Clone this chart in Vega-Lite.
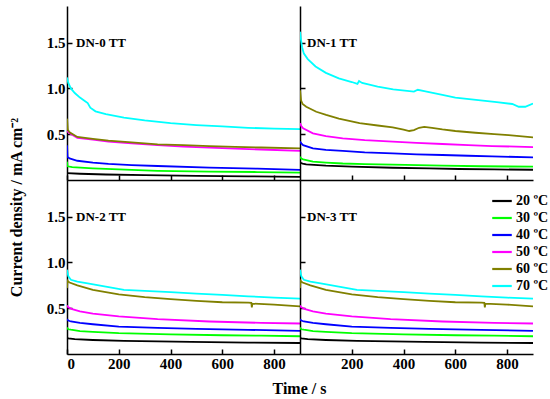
{
"$schema": "https://vega.github.io/schema/vega-lite/v6.json",
"padding": {"left": 8, "top": 6, "right": 0, "bottom": 0},
"columns": 2,
"spacing": 0,
"bounds": "flush",
"datasets": {
"labels": [
{"p": "DN-0 TT", "t": 35, "j": 1.5},
{"p": "DN-1 TT", "t": 27, "j": 1.5},
{"p": "DN-2 TT", "t": 35, "j": 1.5},
{"p": "DN-3 TT", "t": 27, "j": 1.5}
],
"curves": [
{"p":"DN-0 TT","T":"20 ºC","t":0,"j":0.075},{"p":"DN-0 TT","T":"20 ºC","t":50,"j":0.068},{"p":"DN-0 TT","T":"20 ºC","t":150,"j":0.06},{"p":"DN-0 TT","T":"20 ºC","t":300,"j":0.053},{"p":"DN-0 TT","T":"20 ºC","t":500,"j":0.046},{"p":"DN-0 TT","T":"20 ºC","t":700,"j":0.04},{"p":"DN-0 TT","T":"20 ºC","t":900,"j":0.035},
{"p":"DN-0 TT","T":"30 ºC","t":0,"j":0.2},{"p":"DN-0 TT","T":"30 ºC","t":2,"j":0.15},{"p":"DN-0 TT","T":"30 ºC","t":20,"j":0.14},{"p":"DN-0 TT","T":"30 ºC","t":100,"j":0.128},{"p":"DN-0 TT","T":"30 ºC","t":200,"j":0.115},{"p":"DN-0 TT","T":"30 ºC","t":350,"j":0.1},{"p":"DN-0 TT","T":"30 ºC","t":550,"j":0.092},{"p":"DN-0 TT","T":"30 ºC","t":735,"j":0.087},{"p":"DN-0 TT","T":"30 ºC","t":900,"j":0.08},
{"p":"DN-0 TT","T":"40 ºC","t":0,"j":0.38},{"p":"DN-0 TT","T":"40 ºC","t":2,"j":0.25},{"p":"DN-0 TT","T":"40 ºC","t":10,"j":0.235},{"p":"DN-0 TT","T":"40 ºC","t":40,"j":0.21},{"p":"DN-0 TT","T":"40 ºC","t":100,"j":0.19},{"p":"DN-0 TT","T":"40 ºC","t":160,"j":0.175},{"p":"DN-0 TT","T":"40 ºC","t":250,"j":0.163},{"p":"DN-0 TT","T":"40 ºC","t":350,"j":0.153},{"p":"DN-0 TT","T":"40 ºC","t":550,"j":0.135},{"p":"DN-0 TT","T":"40 ºC","t":735,"j":0.124},{"p":"DN-0 TT","T":"40 ºC","t":900,"j":0.11},
{"p":"DN-0 TT","T":"50 ºC","t":0,"j":0.535},{"p":"DN-0 TT","T":"50 ºC","t":10,"j":0.51},{"p":"DN-0 TT","T":"50 ºC","t":40,"j":0.46},{"p":"DN-0 TT","T":"50 ºC","t":100,"j":0.44},{"p":"DN-0 TT","T":"50 ºC","t":160,"j":0.42},{"p":"DN-0 TT","T":"50 ºC","t":250,"j":0.4},{"p":"DN-0 TT","T":"50 ºC","t":350,"j":0.38},{"p":"DN-0 TT","T":"50 ºC","t":450,"j":0.365},{"p":"DN-0 TT","T":"50 ºC","t":550,"j":0.353},{"p":"DN-0 TT","T":"50 ºC","t":650,"j":0.343},{"p":"DN-0 TT","T":"50 ºC","t":750,"j":0.333},{"p":"DN-0 TT","T":"50 ºC","t":900,"j":0.317},
{"p":"DN-0 TT","T":"60 ºC","t":0,"j":0.67},{"p":"DN-0 TT","T":"60 ºC","t":3,"j":0.55},{"p":"DN-0 TT","T":"60 ºC","t":10,"j":0.52},{"p":"DN-0 TT","T":"60 ºC","t":40,"j":0.47},{"p":"DN-0 TT","T":"60 ºC","t":100,"j":0.45},{"p":"DN-0 TT","T":"60 ºC","t":160,"j":0.43},{"p":"DN-0 TT","T":"60 ºC","t":250,"j":0.41},{"p":"DN-0 TT","T":"60 ºC","t":350,"j":0.39},{"p":"DN-0 TT","T":"60 ºC","t":450,"j":0.38},{"p":"DN-0 TT","T":"60 ºC","t":550,"j":0.37},{"p":"DN-0 TT","T":"60 ºC","t":650,"j":0.362},{"p":"DN-0 TT","T":"60 ºC","t":750,"j":0.355},{"p":"DN-0 TT","T":"60 ºC","t":900,"j":0.345},
{"p":"DN-0 TT","T":"70 ºC","t":0,"j":1.12},{"p":"DN-0 TT","T":"70 ºC","t":5,"j":1.06},{"p":"DN-0 TT","T":"70 ºC","t":15,"j":1.0},{"p":"DN-0 TT","T":"70 ºC","t":30,"j":0.95},{"p":"DN-0 TT","T":"70 ºC","t":50,"j":0.9},{"p":"DN-0 TT","T":"70 ºC","t":70,"j":0.86},{"p":"DN-0 TT","T":"70 ºC","t":80,"j":0.84},{"p":"DN-0 TT","T":"70 ºC","t":90,"j":0.79},{"p":"DN-0 TT","T":"70 ºC","t":110,"j":0.75},{"p":"DN-0 TT","T":"70 ºC","t":150,"j":0.72},{"p":"DN-0 TT","T":"70 ºC","t":220,"j":0.68},{"p":"DN-0 TT","T":"70 ºC","t":300,"j":0.65},{"p":"DN-0 TT","T":"70 ºC","t":400,"j":0.62},{"p":"DN-0 TT","T":"70 ºC","t":500,"j":0.6},{"p":"DN-0 TT","T":"70 ºC","t":600,"j":0.585},{"p":"DN-0 TT","T":"70 ºC","t":700,"j":0.57},{"p":"DN-0 TT","T":"70 ºC","t":800,"j":0.56},{"p":"DN-0 TT","T":"70 ºC","t":900,"j":0.555},

{"p":"DN-1 TT","T":"20 ºC","t":0,"j":0.19},{"p":"DN-1 TT","T":"20 ºC","t":10,"j":0.18},{"p":"DN-1 TT","T":"20 ºC","t":24,"j":0.17},{"p":"DN-1 TT","T":"20 ºC","t":100,"j":0.156},{"p":"DN-1 TT","T":"20 ºC","t":200,"j":0.145},{"p":"DN-1 TT","T":"20 ºC","t":358,"j":0.134},{"p":"DN-1 TT","T":"20 ºC","t":500,"j":0.126},{"p":"DN-1 TT","T":"20 ºC","t":614,"j":0.12},{"p":"DN-1 TT","T":"20 ºC","t":750,"j":0.116},{"p":"DN-1 TT","T":"20 ºC","t":900,"j":0.112},
{"p":"DN-1 TT","T":"30 ºC","t":0,"j":0.255},{"p":"DN-1 TT","T":"30 ºC","t":5,"j":0.235},{"p":"DN-1 TT","T":"30 ºC","t":12,"j":0.225},{"p":"DN-1 TT","T":"30 ºC","t":50,"j":0.2},{"p":"DN-1 TT","T":"30 ºC","t":100,"j":0.19},{"p":"DN-1 TT","T":"30 ºC","t":165,"j":0.18},{"p":"DN-1 TT","T":"30 ºC","t":250,"j":0.173},{"p":"DN-1 TT","T":"30 ºC","t":358,"j":0.167},{"p":"DN-1 TT","T":"30 ºC","t":550,"j":0.156},{"p":"DN-1 TT","T":"30 ºC","t":700,"j":0.15},{"p":"DN-1 TT","T":"30 ºC","t":900,"j":0.145},
{"p":"DN-1 TT","T":"40 ºC","t":0,"j":0.42},{"p":"DN-1 TT","T":"40 ºC","t":5,"j":0.4},{"p":"DN-1 TT","T":"40 ºC","t":12,"j":0.38},{"p":"DN-1 TT","T":"40 ºC","t":50,"j":0.345},{"p":"DN-1 TT","T":"40 ºC","t":100,"j":0.33},{"p":"DN-1 TT","T":"40 ºC","t":165,"j":0.317},{"p":"DN-1 TT","T":"40 ºC","t":250,"j":0.302},{"p":"DN-1 TT","T":"40 ºC","t":358,"j":0.29},{"p":"DN-1 TT","T":"40 ºC","t":450,"j":0.28},{"p":"DN-1 TT","T":"40 ºC","t":550,"j":0.273},{"p":"DN-1 TT","T":"40 ºC","t":650,"j":0.265},{"p":"DN-1 TT","T":"40 ºC","t":742,"j":0.258},{"p":"DN-1 TT","T":"40 ºC","t":900,"j":0.247},
{"p":"DN-1 TT","T":"50 ºC","t":0,"j":0.62},{"p":"DN-1 TT","T":"50 ºC","t":5,"j":0.59},{"p":"DN-1 TT","T":"50 ºC","t":12,"j":0.565},{"p":"DN-1 TT","T":"50 ºC","t":50,"j":0.51},{"p":"DN-1 TT","T":"50 ºC","t":100,"j":0.48},{"p":"DN-1 TT","T":"50 ºC","t":165,"j":0.455},{"p":"DN-1 TT","T":"50 ºC","t":250,"j":0.435},{"p":"DN-1 TT","T":"50 ºC","t":358,"j":0.42},{"p":"DN-1 TT","T":"50 ºC","t":450,"j":0.405},{"p":"DN-1 TT","T":"50 ºC","t":550,"j":0.393},{"p":"DN-1 TT","T":"50 ºC","t":650,"j":0.38},{"p":"DN-1 TT","T":"50 ºC","t":742,"j":0.37},{"p":"DN-1 TT","T":"50 ºC","t":900,"j":0.36},
{"p":"DN-1 TT","T":"60 ºC","t":0,"j":0.98},{"p":"DN-1 TT","T":"60 ºC","t":4,"j":0.87},{"p":"DN-1 TT","T":"60 ºC","t":10,"j":0.83},{"p":"DN-1 TT","T":"60 ºC","t":24,"j":0.8},{"p":"DN-1 TT","T":"60 ºC","t":63,"j":0.745},{"p":"DN-1 TT","T":"60 ºC","t":101,"j":0.71},{"p":"DN-1 TT","T":"60 ºC","t":150,"j":0.67},{"p":"DN-1 TT","T":"60 ºC","t":230,"j":0.62},{"p":"DN-1 TT","T":"60 ºC","t":300,"j":0.595},{"p":"DN-1 TT","T":"60 ºC","t":358,"j":0.575},{"p":"DN-1 TT","T":"60 ºC","t":400,"j":0.55},{"p":"DN-1 TT","T":"60 ºC","t":422,"j":0.535},{"p":"DN-1 TT","T":"60 ºC","t":440,"j":0.545},{"p":"DN-1 TT","T":"60 ºC","t":460,"j":0.57},{"p":"DN-1 TT","T":"60 ºC","t":480,"j":0.58},{"p":"DN-1 TT","T":"60 ºC","t":510,"j":0.57},{"p":"DN-1 TT","T":"60 ºC","t":550,"j":0.553},{"p":"DN-1 TT","T":"60 ºC","t":600,"j":0.535},{"p":"DN-1 TT","T":"60 ºC","t":678,"j":0.516},{"p":"DN-1 TT","T":"60 ºC","t":750,"j":0.5},{"p":"DN-1 TT","T":"60 ºC","t":806,"j":0.49},{"p":"DN-1 TT","T":"60 ºC","t":900,"j":0.466},
{"p":"DN-1 TT","T":"70 ºC","t":0,"j":1.62},{"p":"DN-1 TT","T":"70 ºC","t":3,"j":1.55},{"p":"DN-1 TT","T":"70 ºC","t":8,"j":1.45},{"p":"DN-1 TT","T":"70 ºC","t":15,"j":1.38},{"p":"DN-1 TT","T":"70 ºC","t":30,"j":1.32},{"p":"DN-1 TT","T":"70 ºC","t":60,"j":1.24},{"p":"DN-1 TT","T":"70 ºC","t":100,"j":1.17},{"p":"DN-1 TT","T":"70 ºC","t":150,"j":1.11},{"p":"DN-1 TT","T":"70 ºC","t":200,"j":1.07},{"p":"DN-1 TT","T":"70 ºC","t":222,"j":1.05},{"p":"DN-1 TT","T":"70 ºC","t":228,"j":1.08},{"p":"DN-1 TT","T":"70 ºC","t":240,"j":1.06},{"p":"DN-1 TT","T":"70 ºC","t":300,"j":1.02},{"p":"DN-1 TT","T":"70 ºC","t":360,"j":0.99},{"p":"DN-1 TT","T":"70 ºC","t":440,"j":0.965},{"p":"DN-1 TT","T":"70 ºC","t":455,"j":0.985},{"p":"DN-1 TT","T":"70 ºC","t":480,"j":0.97},{"p":"DN-1 TT","T":"70 ºC","t":550,"j":0.93},{"p":"DN-1 TT","T":"70 ºC","t":600,"j":0.9},{"p":"DN-1 TT","T":"70 ºC","t":680,"j":0.875},{"p":"DN-1 TT","T":"70 ºC","t":760,"j":0.85},{"p":"DN-1 TT","T":"70 ºC","t":820,"j":0.83},{"p":"DN-1 TT","T":"70 ºC","t":845,"j":0.8},{"p":"DN-1 TT","T":"70 ºC","t":870,"j":0.8},{"p":"DN-1 TT","T":"70 ºC","t":900,"j":0.835},

{"p":"DN-2 TT","T":"20 ºC","t":0,"j":0.18},{"p":"DN-2 TT","T":"20 ºC","t":5,"j":0.17},{"p":"DN-2 TT","T":"20 ºC","t":30,"j":0.163},{"p":"DN-2 TT","T":"20 ºC","t":100,"j":0.153},{"p":"DN-2 TT","T":"20 ºC","t":220,"j":0.143},{"p":"DN-2 TT","T":"20 ºC","t":350,"j":0.137},{"p":"DN-2 TT","T":"20 ºC","t":480,"j":0.132},{"p":"DN-2 TT","T":"20 ºC","t":700,"j":0.125},{"p":"DN-2 TT","T":"20 ºC","t":900,"j":0.12},
{"p":"DN-2 TT","T":"30 ºC","t":0,"j":0.29},{"p":"DN-2 TT","T":"30 ºC","t":5,"j":0.27},{"p":"DN-2 TT","T":"30 ºC","t":15,"j":0.265},{"p":"DN-2 TT","T":"30 ºC","t":50,"j":0.25},{"p":"DN-2 TT","T":"30 ºC","t":100,"j":0.242},{"p":"DN-2 TT","T":"30 ºC","t":200,"j":0.228},{"p":"DN-2 TT","T":"30 ºC","t":400,"j":0.214},{"p":"DN-2 TT","T":"30 ºC","t":600,"j":0.205},{"p":"DN-2 TT","T":"30 ºC","t":750,"j":0.2},{"p":"DN-2 TT","T":"30 ºC","t":900,"j":0.194},
{"p":"DN-2 TT","T":"40 ºC","t":0,"j":0.38},{"p":"DN-2 TT","T":"40 ºC","t":5,"j":0.365},{"p":"DN-2 TT","T":"40 ºC","t":15,"j":0.355},{"p":"DN-2 TT","T":"40 ºC","t":50,"j":0.34},{"p":"DN-2 TT","T":"40 ºC","t":100,"j":0.325},{"p":"DN-2 TT","T":"40 ºC","t":200,"j":0.3},{"p":"DN-2 TT","T":"40 ºC","t":350,"j":0.285},{"p":"DN-2 TT","T":"40 ºC","t":500,"j":0.275},{"p":"DN-2 TT","T":"40 ºC","t":700,"j":0.264},{"p":"DN-2 TT","T":"40 ºC","t":900,"j":0.252},
{"p":"DN-2 TT","T":"50 ºC","t":0,"j":0.53},{"p":"DN-2 TT","T":"50 ºC","t":5,"j":0.51},{"p":"DN-2 TT","T":"50 ºC","t":20,"j":0.49},{"p":"DN-2 TT","T":"50 ºC","t":50,"j":0.465},{"p":"DN-2 TT","T":"50 ºC","t":100,"j":0.44},{"p":"DN-2 TT","T":"50 ºC","t":200,"j":0.41},{"p":"DN-2 TT","T":"50 ºC","t":350,"j":0.38},{"p":"DN-2 TT","T":"50 ºC","t":550,"j":0.355},{"p":"DN-2 TT","T":"50 ºC","t":750,"j":0.34},{"p":"DN-2 TT","T":"50 ºC","t":900,"j":0.333},
{"p":"DN-2 TT","T":"60 ºC","t":0,"j":0.72},{"p":"DN-2 TT","T":"60 ºC","t":2,"j":0.8},{"p":"DN-2 TT","T":"60 ºC","t":10,"j":0.78},{"p":"DN-2 TT","T":"60 ºC","t":40,"j":0.75},{"p":"DN-2 TT","T":"60 ºC","t":100,"j":0.7},{"p":"DN-2 TT","T":"60 ºC","t":200,"j":0.65},{"p":"DN-2 TT","T":"60 ºC","t":300,"j":0.62},{"p":"DN-2 TT","T":"60 ºC","t":400,"j":0.6},{"p":"DN-2 TT","T":"60 ºC","t":500,"j":0.58},{"p":"DN-2 TT","T":"60 ºC","t":600,"j":0.565},{"p":"DN-2 TT","T":"60 ºC","t":700,"j":0.56},{"p":"DN-2 TT","T":"60 ºC","t":712,"j":0.558},{"p":"DN-2 TT","T":"60 ºC","t":714,"j":0.51},{"p":"DN-2 TT","T":"60 ºC","t":716,"j":0.55},{"p":"DN-2 TT","T":"60 ºC","t":800,"j":0.54},{"p":"DN-2 TT","T":"60 ºC","t":900,"j":0.52},
{"p":"DN-2 TT","T":"70 ºC","t":0,"j":0.92},{"p":"DN-2 TT","T":"70 ºC","t":5,"j":0.85},{"p":"DN-2 TT","T":"70 ºC","t":15,"j":0.81},{"p":"DN-2 TT","T":"70 ºC","t":40,"j":0.79},{"p":"DN-2 TT","T":"70 ºC","t":80,"j":0.77},{"p":"DN-2 TT","T":"70 ºC","t":150,"j":0.735},{"p":"DN-2 TT","T":"70 ºC","t":220,"j":0.7},{"p":"DN-2 TT","T":"70 ºC","t":300,"j":0.69},{"p":"DN-2 TT","T":"70 ºC","t":400,"j":0.675},{"p":"DN-2 TT","T":"70 ºC","t":500,"j":0.66},{"p":"DN-2 TT","T":"70 ºC","t":600,"j":0.645},{"p":"DN-2 TT","T":"70 ºC","t":700,"j":0.63},{"p":"DN-2 TT","T":"70 ºC","t":800,"j":0.615},{"p":"DN-2 TT","T":"70 ºC","t":900,"j":0.605},

{"p":"DN-3 TT","T":"20 ºC","t":0,"j":0.18},{"p":"DN-3 TT","T":"20 ºC","t":5,"j":0.17},{"p":"DN-3 TT","T":"20 ºC","t":30,"j":0.163},{"p":"DN-3 TT","T":"20 ºC","t":100,"j":0.153},{"p":"DN-3 TT","T":"20 ºC","t":220,"j":0.143},{"p":"DN-3 TT","T":"20 ºC","t":350,"j":0.137},{"p":"DN-3 TT","T":"20 ºC","t":480,"j":0.132},{"p":"DN-3 TT","T":"20 ºC","t":700,"j":0.125},{"p":"DN-3 TT","T":"20 ºC","t":900,"j":0.12},
{"p":"DN-3 TT","T":"30 ºC","t":0,"j":0.29},{"p":"DN-3 TT","T":"30 ºC","t":5,"j":0.27},{"p":"DN-3 TT","T":"30 ºC","t":15,"j":0.265},{"p":"DN-3 TT","T":"30 ºC","t":50,"j":0.25},{"p":"DN-3 TT","T":"30 ºC","t":100,"j":0.242},{"p":"DN-3 TT","T":"30 ºC","t":200,"j":0.228},{"p":"DN-3 TT","T":"30 ºC","t":400,"j":0.214},{"p":"DN-3 TT","T":"30 ºC","t":600,"j":0.205},{"p":"DN-3 TT","T":"30 ºC","t":750,"j":0.2},{"p":"DN-3 TT","T":"30 ºC","t":900,"j":0.194},
{"p":"DN-3 TT","T":"40 ºC","t":0,"j":0.38},{"p":"DN-3 TT","T":"40 ºC","t":5,"j":0.365},{"p":"DN-3 TT","T":"40 ºC","t":15,"j":0.355},{"p":"DN-3 TT","T":"40 ºC","t":50,"j":0.34},{"p":"DN-3 TT","T":"40 ºC","t":100,"j":0.325},{"p":"DN-3 TT","T":"40 ºC","t":200,"j":0.3},{"p":"DN-3 TT","T":"40 ºC","t":350,"j":0.285},{"p":"DN-3 TT","T":"40 ºC","t":500,"j":0.275},{"p":"DN-3 TT","T":"40 ºC","t":700,"j":0.264},{"p":"DN-3 TT","T":"40 ºC","t":900,"j":0.252},
{"p":"DN-3 TT","T":"50 ºC","t":0,"j":0.53},{"p":"DN-3 TT","T":"50 ºC","t":5,"j":0.51},{"p":"DN-3 TT","T":"50 ºC","t":20,"j":0.49},{"p":"DN-3 TT","T":"50 ºC","t":50,"j":0.465},{"p":"DN-3 TT","T":"50 ºC","t":100,"j":0.44},{"p":"DN-3 TT","T":"50 ºC","t":200,"j":0.41},{"p":"DN-3 TT","T":"50 ºC","t":350,"j":0.38},{"p":"DN-3 TT","T":"50 ºC","t":550,"j":0.355},{"p":"DN-3 TT","T":"50 ºC","t":750,"j":0.34},{"p":"DN-3 TT","T":"50 ºC","t":900,"j":0.333},
{"p":"DN-3 TT","T":"60 ºC","t":0,"j":0.72},{"p":"DN-3 TT","T":"60 ºC","t":2,"j":0.8},{"p":"DN-3 TT","T":"60 ºC","t":10,"j":0.78},{"p":"DN-3 TT","T":"60 ºC","t":40,"j":0.75},{"p":"DN-3 TT","T":"60 ºC","t":100,"j":0.7},{"p":"DN-3 TT","T":"60 ºC","t":200,"j":0.65},{"p":"DN-3 TT","T":"60 ºC","t":300,"j":0.62},{"p":"DN-3 TT","T":"60 ºC","t":400,"j":0.6},{"p":"DN-3 TT","T":"60 ºC","t":500,"j":0.58},{"p":"DN-3 TT","T":"60 ºC","t":600,"j":0.565},{"p":"DN-3 TT","T":"60 ºC","t":700,"j":0.56},{"p":"DN-3 TT","T":"60 ºC","t":712,"j":0.558},{"p":"DN-3 TT","T":"60 ºC","t":714,"j":0.51},{"p":"DN-3 TT","T":"60 ºC","t":716,"j":0.55},{"p":"DN-3 TT","T":"60 ºC","t":800,"j":0.54},{"p":"DN-3 TT","T":"60 ºC","t":900,"j":0.52},
{"p":"DN-3 TT","T":"70 ºC","t":0,"j":0.92},{"p":"DN-3 TT","T":"70 ºC","t":5,"j":0.85},{"p":"DN-3 TT","T":"70 ºC","t":15,"j":0.81},{"p":"DN-3 TT","T":"70 ºC","t":40,"j":0.79},{"p":"DN-3 TT","T":"70 ºC","t":80,"j":0.77},{"p":"DN-3 TT","T":"70 ºC","t":150,"j":0.735},{"p":"DN-3 TT","T":"70 ºC","t":220,"j":0.7},{"p":"DN-3 TT","T":"70 ºC","t":300,"j":0.69},{"p":"DN-3 TT","T":"70 ºC","t":400,"j":0.675},{"p":"DN-3 TT","T":"70 ºC","t":500,"j":0.66},{"p":"DN-3 TT","T":"70 ºC","t":600,"j":0.645},{"p":"DN-3 TT","T":"70 ºC","t":700,"j":0.63},{"p":"DN-3 TT","T":"70 ºC","t":800,"j":0.615},{"p":"DN-3 TT","T":"70 ºC","t":900,"j":0.605}
]
},
"resolve": {"scale": {"color": "shared"}, "legend": {"color": "shared"}},
"concat": [
{
"width": 233, "height": 174,
"layer": [
{"data": {"name": "curves"}, "transform": [{"filter": "datum.p === 'DN-0 TT'"}],
"mark": {"type": "line", "strokeWidth": 1.8, "clip": true},
"encoding": {
"x": {"field": "t", "type": "quantitative", "scale": {"domain": [0, 900], "nice": false}, "axis": {"values": [0, 200, 400, 600, 800], "labels": false, "title": null}},
"y": {"field": "j", "type": "quantitative", "scale": {"domain": [0, 1.9], "nice": false}, "axis": {"values": [0.5, 1, 1.5], "format": ".1f", "title": "Current density / mA cm⁻²", "titleX": -43, "titleY": 201}},
"color": {"field": "T", "type": "nominal", "scale": {"domain": ["20 ºC", "30 ºC", "40 ºC", "50 ºC", "60 ºC", "70 ºC"], "range": ["#000000", "#00ff00", "#0000ff", "#ff00ff", "#808000", "#00ffff"]}, "legend": {"orient": "none", "legendX": 425, "legendY": 185}}
}},
{"data": {"name": "labels"}, "transform": [{"filter": "datum.p === 'DN-0 TT'"}],
"mark": {"type": "text", "align": "left", "baseline": "middle", "font": "Liberation Serif", "fontWeight": "bold", "fontSize": 13, "color": "black"},
"encoding": {"x": {"field": "t", "type": "quantitative"}, "y": {"field": "j", "type": "quantitative"}, "text": {"field": "p"}}}
]
},
{
"width": 233, "height": 174,
"layer": [
{"data": {"name": "curves"}, "transform": [{"filter": "datum.p === 'DN-1 TT'"}],
"mark": {"type": "line", "strokeWidth": 1.8, "clip": true},
"encoding": {
"x": {"field": "t", "type": "quantitative", "scale": {"domain": [0, 900], "nice": false}, "axis": {"values": [200, 400, 600, 800], "labels": false, "title": null}},
"y": {"field": "j", "type": "quantitative", "scale": {"domain": [0, 1.9], "nice": false}, "axis": {"values": [0.5, 1, 1.5], "labels": false, "title": null}},
"color": {"field": "T", "type": "nominal", "scale": {"domain": ["20 ºC", "30 ºC", "40 ºC", "50 ºC", "60 ºC", "70 ºC"], "range": ["#000000", "#00ff00", "#0000ff", "#ff00ff", "#808000", "#00ffff"]}, "legend": {"orient": "none", "legendX": 425, "legendY": 185}}
}},
{"data": {"name": "labels"}, "transform": [{"filter": "datum.p === 'DN-1 TT'"}],
"mark": {"type": "text", "align": "left", "baseline": "middle", "font": "Liberation Serif", "fontWeight": "bold", "fontSize": 13, "color": "black"},
"encoding": {"x": {"field": "t", "type": "quantitative"}, "y": {"field": "j", "type": "quantitative"}, "text": {"field": "p"}}}
]
},
{
"width": 233, "height": 174,
"layer": [
{"data": {"name": "curves"}, "transform": [{"filter": "datum.p === 'DN-2 TT'"}],
"mark": {"type": "line", "strokeWidth": 1.8, "clip": true},
"encoding": {
"x": {"field": "t", "type": "quantitative", "scale": {"domain": [0, 900], "nice": false}, "axis": {"values": [0, 200, 400, 600, 800], "title": "Time / s", "titleX": 232, "titleY": 26}},
"y": {"field": "j", "type": "quantitative", "scale": {"domain": [0, 1.9], "nice": false}, "axis": {"values": [0.5, 1, 1.5], "format": ".1f", "title": null}},
"color": {"field": "T", "type": "nominal", "scale": {"domain": ["20 ºC", "30 ºC", "40 ºC", "50 ºC", "60 ºC", "70 ºC"], "range": ["#000000", "#00ff00", "#0000ff", "#ff00ff", "#808000", "#00ffff"]}, "legend": {"orient": "none", "legendX": 425, "legendY": 185}}
}},
{"data": {"name": "labels"}, "transform": [{"filter": "datum.p === 'DN-2 TT'"}],
"mark": {"type": "text", "align": "left", "baseline": "middle", "font": "Liberation Serif", "fontWeight": "bold", "fontSize": 13, "color": "black"},
"encoding": {"x": {"field": "t", "type": "quantitative"}, "y": {"field": "j", "type": "quantitative"}, "text": {"field": "p"}}}
]
},
{
"width": 233, "height": 174,
"layer": [
{"data": {"name": "curves"}, "transform": [{"filter": "datum.p === 'DN-3 TT'"}],
"mark": {"type": "line", "strokeWidth": 1.8, "clip": true},
"encoding": {
"x": {"field": "t", "type": "quantitative", "scale": {"domain": [0, 900], "nice": false}, "axis": {"values": [200, 400, 600, 800], "title": null}},
"y": {"field": "j", "type": "quantitative", "scale": {"domain": [0, 1.9], "nice": false}, "axis": {"values": [0.5, 1, 1.5], "labels": false, "title": null}},
"color": {"field": "T", "type": "nominal", "scale": {"domain": ["20 ºC", "30 ºC", "40 ºC", "50 ºC", "60 ºC", "70 ºC"], "range": ["#000000", "#00ff00", "#0000ff", "#ff00ff", "#808000", "#00ffff"]}, "legend": {"orient": "none", "legendX": 425, "legendY": 185}}
}},
{"data": {"name": "labels"}, "transform": [{"filter": "datum.p === 'DN-3 TT'"}],
"mark": {"type": "text", "align": "left", "baseline": "middle", "font": "Liberation Serif", "fontWeight": "bold", "fontSize": 13, "color": "black"},
"encoding": {"x": {"field": "t", "type": "quantitative"}, "y": {"field": "j", "type": "quantitative"}, "text": {"field": "p"}}}
]
}
],
"config": {
"view": {"stroke": null},
"axis": {"labelFont": "Liberation Serif", "labelFontWeight": "bold", "labelFontSize": 15, "labelColor": "black", "titleFont": "Liberation Serif", "titleFontWeight": "bold", "titleFontSize": 16, "titleColor": "black", "domainColor": "black", "domainWidth": 1.5, "tickColor": "black", "tickWidth": 1.5, "tickSize": -5, "labelPadding": 7, "grid": false},
"legend": {"title": null, "symbolType": "M-1.15,0H1.15", "symbolStrokeWidth": 2.2, "symbolSize": 289, "labelFont": "Liberation Serif", "labelFontWeight": "bold", "labelFontSize": 14, "labelColor": "black", "rowPadding": 0, "labelOffset": 4, "padding": 0}
}
}
